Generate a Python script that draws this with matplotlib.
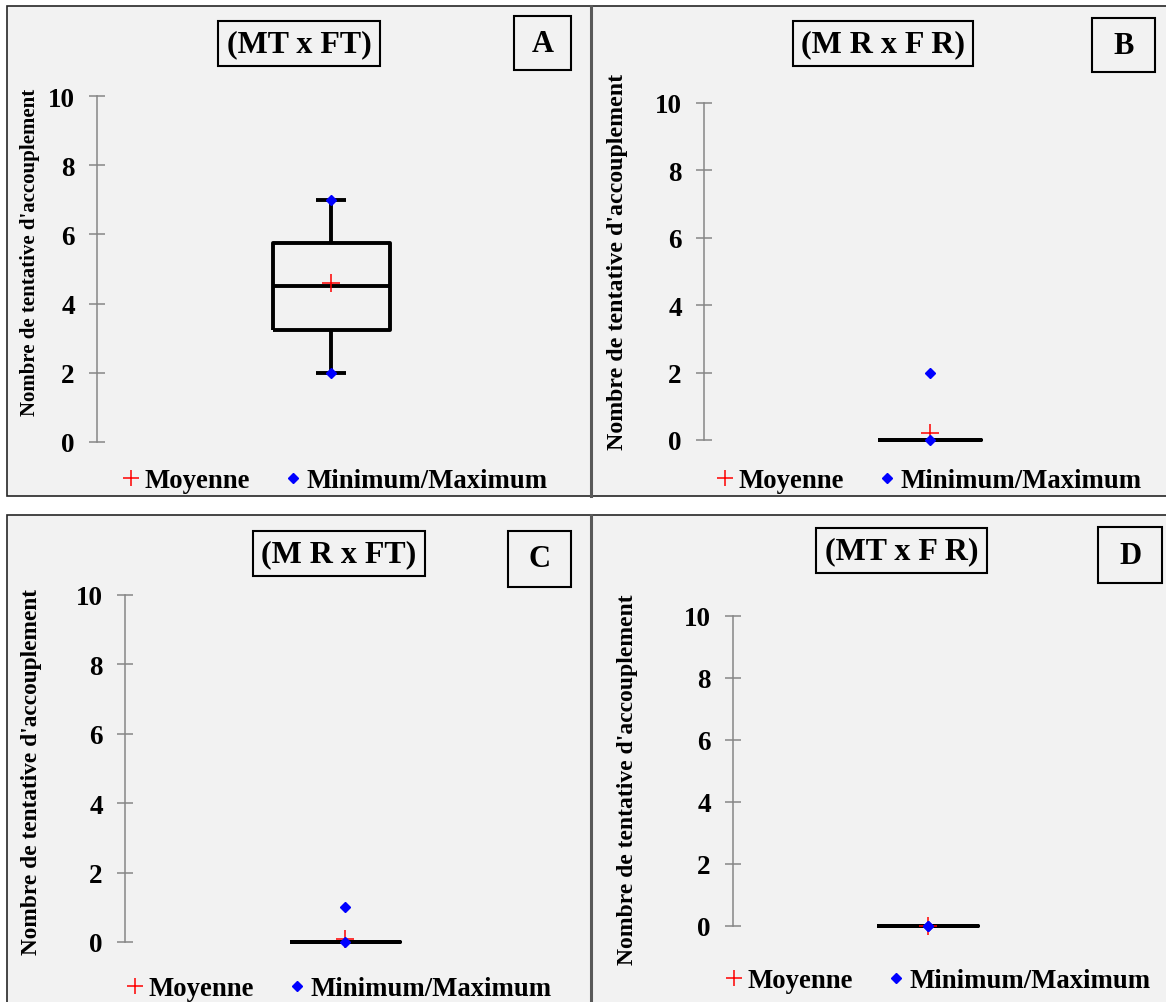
import matplotlib.pyplot as plt
from matplotlib.patches import Rectangle
from matplotlib.lines import Line2D

W, H = 1166, 1003
DPI = 100

plt.rcParams['font.family'] = ['Liberation Serif', 'DejaVu Serif']
plt.rcParams['font.weight'] = 'bold'

# data
panels = ['A', 'B', 'C', 'D']
crosses = ['(MT x FT)', '(M R x F R)', '(M R x FT)', '(MT x F R)']
q1 = [3.25, 0, 0, 0]
medians = [4.5, 0, 0, 0]
q3 = [5.75, 0, 0, 0]
whislo = [2, 0, 0, 0]
whishi = [7, 0, 0, 0]
means = [4.6, 0.2, 0.1, 0]
minimums = [2, 0, 0, 0]
maximums = [7, 2, 1, 0]
yticks = [0, 2, 4, 6, 8, 10]
ylabel = "Nombre de tentative d'accouplement"

# layout in pixels: (x axis, x right, y of 0, y of 10)
axes_px = [(97, 565, 443, 97), (704, 1155, 441, 104),
           (125, 565, 943, 596), (733, 1122, 927, 617)]
box_w = [0.5, 0.46, 0.5, 0.52]
title_px = [(218, 380, 22, 67), (793, 973, 22, 67),
            (253, 425, 532, 577), (816, 987, 529, 574)]
letter_px = [(514, 571, 17, 71), (1092, 1155, 19, 73),
             (508, 571, 532, 588), (1098, 1162, 528, 584)]
ylabel_px = [(30, 252, 15), (618, 262, 17.2), (32, 772, 16.8), (627, 780, 17)]
legend_px = [(334, 482), (928, 482), (338, 990), (937, 982)]


def fx(px):
    return px / W


def fy(py):
    return 1 - py / H


def rect(x0, x1, y0, y1, **kw):
    return Rectangle((fx(x0), fy(y1)), (x1 - x0) / W, (y1 - y0) / H,
                     transform=fig.transFigure, **kw)


fig = plt.figure(figsize=(W / DPI, H / DPI), dpi=DPI)

# panel backgrounds and frames
for y0, y1 in [(7, 497), (516, 1010)]:
    fig.add_artist(rect(7, 1175, y0, y1, facecolor='#f2f2f2',
                        edgecolor='#262626', lw=1.2, zorder=0))
    fig.add_artist(Line2D([fx(591), fx(591)], [fy(y0), fy(min(y1, 1003))],
                          transform=fig.transFigure, color='#595959',
                          lw=2.2, zorder=1))

gray = '#868686'
for i in range(4):
    x0, x1, y0, y10 = axes_px[i]
    u = (y0 - y10) / 10
    bot, top = y0 + 0.6 * u, y10 - 0.6 * u
    ax = fig.add_axes([fx(x0), fy(bot), (x1 - x0) / W, (bot - top) / H])
    ax.patch.set_visible(False)

    stats = [dict(med=medians[i], q1=q1[i], q3=q3[i],
                  whislo=whislo[i], whishi=whishi[i], fliers=[])]
    lp = dict(color='black', linewidth=2.8, solid_capstyle='butt')
    ax.bxp(stats, positions=[1], widths=box_w[i], capwidths=0.13,
           showfliers=False, boxprops=lp, medianprops=lp,
           whiskerprops=lp, capprops=lp, manage_ticks=False)
    ax.plot([1], [means[i]], '+', color='red', ms=13, mew=1.1,
            clip_on=False, zorder=5)
    ax.plot([1, 1], [minimums[i], maximums[i]], 'D', color='blue',
            ms=5, clip_on=False, zorder=6)

    ax.set_xlim(0, 2)
    ax.set_ylim(-0.6, 10.6)
    for s in ['top', 'right', 'bottom']:
        ax.spines[s].set_visible(False)
    ax.spines['left'].set_color(gray)
    ax.spines['left'].set_linewidth(1.1)
    ax.spines['left'].set_bounds(0, 10)
    ax.set_xticks([])
    ax.set_yticks(yticks)
    ax.tick_params(axis='y', direction='inout', length=12, width=1.1,
                   color=gray, labelsize=19.5, pad=10)

    # y label
    lx, ly, ls = ylabel_px[i]
    fig.text(fx(lx), fy(ly), ylabel, rotation=90, ha='center',
             va='center', fontsize=ls, fontweight='bold')

    # title and letter boxes
    tx0, tx1, ty0, ty1 = title_px[i]
    fig.add_artist(rect(tx0, tx1, ty0, ty1, fill=False,
                        edgecolor='black', lw=1.5, zorder=3))
    fig.text(fx((tx0 + tx1) / 2), fy((ty0 + ty1) / 2), crosses[i],
             ha='center', va='center', fontsize=23, fontweight='bold')
    bx0, bx1, by0, by1 = letter_px[i]
    fig.add_artist(rect(bx0, bx1, by0, by1, fill=False,
                        edgecolor='black', lw=1.5, zorder=3))
    fig.text(fx((bx0 + bx1) / 2), fy((by0 + by1) / 2), panels[i],
             ha='center', va='center', fontsize=22, fontweight='bold')

    # legend
    handles = [Line2D([], [], ls='none', marker='+', color='red', ms=11.5,
                      mew=1.1),
               Line2D([], [], ls='none', marker='D', color='blue', ms=5)]
    lgx, lgy = legend_px[i]
    ax.legend(handles, ['Moyenne', 'Minimum/Maximum'], ncol=2,
              frameon=False, loc='center', bbox_to_anchor=(fx(lgx), fy(lgy)),
              bbox_transform=fig.transFigure, fontsize=19.3,
              handlelength=0.8, handletextpad=0.1, columnspacing=1.18,
              borderpad=0)

fig.savefig('out.png', dpi=DPI)
